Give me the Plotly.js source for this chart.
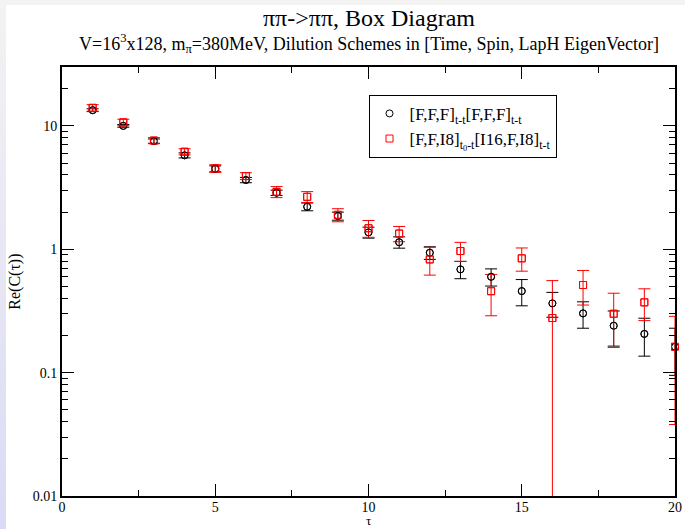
<!DOCTYPE html>
<html>
<head>
<meta charset="utf-8">
<script src="https://cdn.plot.ly/plotly-3.0.1.min.js"></script>
<style>
  html, body { margin: 0; padding: 0; }
  body {
    width: 685px; height: 529px; overflow: hidden;
    background:
      linear-gradient(to bottom, #f3f3f3, #dadaf6) left top / 6px 100% no-repeat,
      linear-gradient(#f3f3f3, #f3f3f3) left top / 100% 5px no-repeat,
      #ffffff;
  }
  #chart { width: 685px; height: 529px; }
</style>
</head>
<body>
<div id="chart"></div>
<script>
// Euclidean time separations
const tau = [1, 2, 3, 4, 5, 6, 7, 8, 9, 10, 11, 12, 13, 14, 15, 16, 17, 18, 19, 20];

// [F,F,F]_{t-t}[F,F,F]_{t-t} dilution scheme
const fullDil = [13.4, 10.0, 7.53, 5.77, 4.49, 3.64, 2.87, 2.21, 1.86, 1.37,
                 1.14, 0.937, 0.687, 0.598, 0.458, 0.364, 0.302, 0.24, 0.206, 0.162];
const fullDilErr = [0.35, 0.25, 0.3, 0.27, 0.25, 0.18, 0.14, 0.16, 0.14, 0.14,
                    0.12, 0.11, 0.11, 0.095, 0.11, 0.083, 0.073, 0.076, 0.07, 0.067];

// [F,F,I8]_{t0-t}[I16,F,I8]_{t-t} dilution scheme
const mixedDil = [14.0, 10.67, 7.6, 6.17, 4.52, 3.92, 2.92, 2.66, 1.9, 1.48,
                  1.34, 0.827, 0.967, 0.457, 0.844, 0.277, 0.513, 0.30, 0.371, 0.162];
const mixedDilErr = [0.85, 0.65, 0.43, 0.35, 0.32, 0.25, 0.3, 0.27, 0.23, 0.23,
                     0.19, 0.21, 0.17, 0.168, 0.18, 0.28, 0.16, 0.14, 0.107, 0.124];

// axis tick labels
const yTickVals = [0.01, 0.1, 1, 10];
const yTickText = ['0.01', '0.1', '1', '10'];
const xTickVals = [0, 5, 10, 15, 20];
const xTickText = ['0', '5', '10', '15', '20'];

const serif = 'Liberation Serif, Times New Roman, serif';

function errBars(arr, color) {
  return { type: 'data', array: arr, visible: true, color: color, thickness: 1, width: 6 };
}

const traces = [
  {
    x: tau, y: fullDil, type: 'scatter', mode: 'markers',
    name: '[F,F,F]<sub>t-t</sub>[F,F,F]<sub>t-t</sub>',
    marker: { symbol: 'circle-open', size: 7, color: '#000000', line: { width: 1 } },
    error_y: errBars(fullDilErr, '#000000'),
    cliponaxis: true
  },
  {
    x: tau, y: mixedDil, type: 'scatter', mode: 'markers',
    name: '[F,F,I8]<sub>t<sub>0</sub>-t</sub>[I16,F,I8]<sub>t-t</sub>',
    marker: { symbol: 'square-open', size: 7, color: '#ff0000', line: { width: 1 } },
    error_y: errBars(mixedDilErr, '#ff0000'),
    cliponaxis: true
  },
  // markers repeated unclipped so the points on the frame edge stay whole
  {
    x: tau, y: fullDil, type: 'scatter', mode: 'markers', showlegend: false, hoverinfo: 'skip',
    marker: { symbol: 'circle-open', size: 7, color: '#000000', line: { width: 1 } },
    cliponaxis: false
  },
  {
    x: tau, y: mixedDil, type: 'scatter', mode: 'markers', showlegend: false, hoverinfo: 'skip',
    marker: { symbol: 'square-open', size: 7, color: '#ff0000', line: { width: 1 } },
    cliponaxis: false
  }
];

const axisCommon = {
  showline: true, linecolor: '#000000', linewidth: 2, mirror: 'ticks',
  ticks: 'inside', ticklen: 12, tickwidth: 1, tickcolor: '#000000',
  showgrid: false, zeroline: false,
  tickfont: { family: serif, size: 14, color: '#000000' }
};

const layout = {
  width: 685, height: 529,
  margin: { l: 62, r: 10, t: 67, b: 33 },
  paper_bgcolor: 'rgba(0,0,0,0)',
  plot_bgcolor: '#ffffff',
  showlegend: true,
  xaxis: Object.assign({}, axisCommon, {
    range: [0, 20], tickmode: 'array', tickvals: xTickVals, ticktext: xTickText,
    ticklabelstandoff: -3,
    minor: { dtick: 2.5, ticklen: 6, tickwidth: 1, tickcolor: '#000000', ticks: 'inside', showgrid: false }
  }),
  yaxis: Object.assign({}, axisCommon, {
    type: 'log', range: [-2, Math.log10(30)],
    tickmode: 'array', tickvals: yTickVals, ticktext: yTickText,
    minor: { dtick: 'D1', ticklen: 6, tickwidth: 1, tickcolor: '#000000', ticks: 'inside', showgrid: false }
  }),
  legend: {
    x: 0.5, xanchor: 'left', y: 0.935, yanchor: 'top',
    bgcolor: '#ffffff', bordercolor: '#000000', borderwidth: 1,
    font: { family: serif, size: 17, color: '#000000' }
  },
  annotations: [
    {
      text: 'ππ->ππ, Box Diagram', xref: 'paper', yref: 'paper',
      x: 0.5, y: 1.114, xanchor: 'center', yanchor: 'middle', showarrow: false,
      font: { family: serif, size: 24, color: '#000000' }
    },
    {
      text: 'V=16<sup>3</sup>x128, m<sub>π</sub>=380MeV, Dilution Schemes in [Time, Spin, LapH EigenVector]',
      xref: 'paper', yref: 'paper',
      x: 0.5, y: 1.054, xanchor: 'center', yanchor: 'middle', showarrow: false,
      font: { family: serif, size: 18, color: '#000000' }
    },
    {
      text: 'τ', xref: 'paper', yref: 'paper',
      x: 0.5, y: -0.058, xanchor: 'center', yanchor: 'middle', showarrow: false,
      font: { family: serif, size: 13, color: '#000000' }
    },
    {
      text: 'Re(C(τ))', xref: 'paper', yref: 'paper', textangle: -90,
      x: -0.078, y: 0.5, xanchor: 'center', yanchor: 'middle', showarrow: false,
      font: { family: serif, size: 16, color: '#000000' }
    }
  ]
};

Plotly.newPlot('chart', traces, layout, { displayModeBar: false, staticPlot: true });
</script>
</body>
</html>
